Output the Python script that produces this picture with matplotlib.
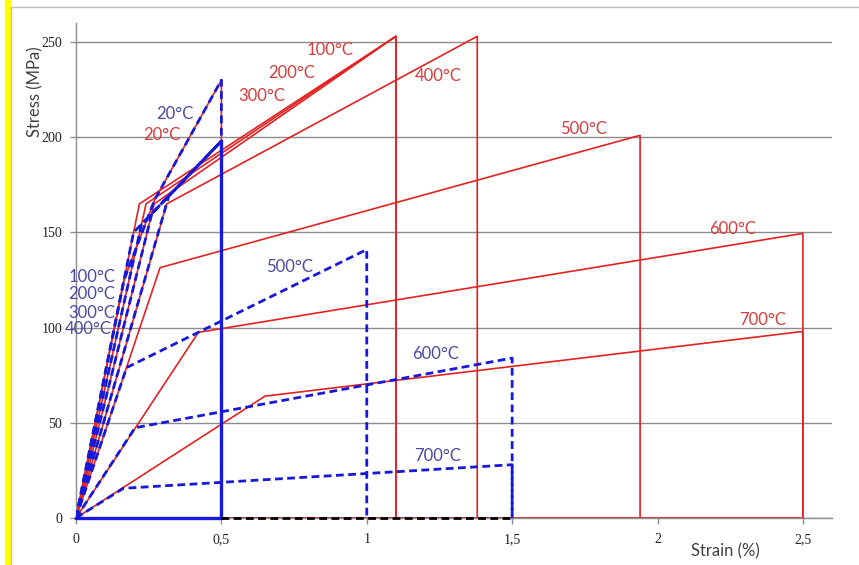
import matplotlib
matplotlib.use('Agg')
import matplotlib.pyplot as plt
from matplotlib.patches import Rectangle

RED = '#e32222'
BLUE = '#1818d8'
RED_TXT = '#d63c3c'
BLUE_TXT = '#4a4aa0'
DASH = (0, (2.8, 1.6))

# 20°C curve (same for both series)
strain_20 = [0, 0.165, 0.27, 0.5]
stress_20 = [0, 125, 167, 230]

# red series: elastic -> yield -> peak -> drop to zero
red_temps = ['100°C', '200°C', '300°C', '400°C', '500°C', '600°C', '700°C']
red_yield_strain = [0.218, 0.241, 0.269, 0.312, 0.289, 0.421, 0.65]
red_yield_stress = [165, 165, 165, 165, 131.5, 97.5, 64]
red_peak_strain = [1.1, 1.1, 1.1, 1.38, 1.94, 2.5, 2.5]
red_peak_stress = [253, 253, 253, 253, 201, 149.5, 98]

# blue series, 100-400°C end at 0.5 %
blue_low_temps = ['100°C', '200°C', '300°C', '400°C']
blue_low_yield_strain = [0.198, 0.225, 0.261, 0.319]
blue_low_yield_stress = [150, 154, 160, 169]
blue_low_peak = (0.5, 198)

# blue series, 500-700°C
blue_high_temps = ['500°C', '600°C', '700°C']
blue_high_yield_strain = [0.174, 0.203, 0.163]
blue_high_yield_stress = [79, 47.4, 15.6]
blue_high_peak_strain = [1.0, 1.5, 1.5]
blue_high_peak_stress = [141, 84, 28]

x_ticks = [0, 0.5, 1, 1.5, 2, 2.5]
x_tick_labels = ['0', '0,5', '1', '1,5', '2', '2,5']
y_ticks = [0, 50, 100, 150, 200, 250]

fig = plt.figure(figsize=(8.59, 5.65), dpi=100)

# frame decoration on the left / top
fig.patches.append(Rectangle((5 / 859, 0), 5 / 859, 1, transform=fig.transFigure,
                             color='#ffff00', zorder=0))
fig.add_artist(plt.Line2D([10.5 / 859, 10.5 / 859], [0, 1 - 7 / 565],
                          transform=fig.transFigure, color='#bdbdbd', lw=1))
fig.add_artist(plt.Line2D([10.5 / 859, 1], [1 - 7 / 565, 1 - 7 / 565],
                          transform=fig.transFigure, color='#bdbdbd', lw=1))

ax = fig.add_axes([76 / 859, 47 / 565, 756 / 859, 495 / 565])

# red curves
ax.plot([0, 2.5], [0, 0], color=RED, lw=1.3, zorder=2, clip_on=False)
ax.plot(strain_20 + [0.5], stress_20 + [0], color=RED, lw=1.2, zorder=2)
for i in range(len(red_temps)):
    ax.plot([0, red_yield_strain[i], red_peak_strain[i], red_peak_strain[i]],
            [0, red_yield_stress[i], red_peak_stress[i], 0],
            color=RED, lw=1.2, zorder=2)

# blue curves
ax.plot(strain_20 + [0.5], stress_20 + [0], color=BLUE, lw=2, ls=DASH, zorder=3)
px, py = blue_low_peak
for i in range(len(blue_low_temps)):
    ax.plot([0, blue_low_yield_strain[i], px], [0, blue_low_yield_stress[i], py],
            color=BLUE, lw=2, ls=DASH, zorder=3)
ax.plot([px, px, 0], [py, 0, 0], color=BLUE, lw=2.4, zorder=4, clip_on=False)
for i in range(len(blue_high_temps)):
    ax.plot([0, blue_high_yield_strain[i], blue_high_peak_strain[i], blue_high_peak_strain[i]],
            [0, blue_high_yield_stress[i], blue_high_peak_stress[i], 0],
            color=BLUE, lw=2, ls=DASH, zorder=3)
ax.plot([0.5, 1.5], [0, 0], color='black', lw=2, ls=DASH, zorder=4, clip_on=False)

# curve labels
labels = [
    ('100°C', 0.874, 245.8, RED_TXT), ('200°C', 0.743, 233.7, RED_TXT),
    ('300°C', 0.640, 221.6, RED_TXT), ('400°C', 1.245, 232.1, RED_TXT),
    ('500°C', 1.744, 204.2, RED_TXT), ('600°C', 2.257, 151.6, RED_TXT),
    ('700°C', 2.360, 104.2, RED_TXT), ('20°C', 0.296, 201.1, RED_TXT),
    ('20°C', 0.341, 212.1, BLUE_TXT), ('100°C', 0.055, 126.8, BLUE_TXT),
    ('200°C', 0.055, 117.4, BLUE_TXT), ('300°C', 0.055, 107.9, BLUE_TXT),
    ('400°C', 0.041, 99.5, BLUE_TXT), ('500°C', 0.736, 132.1, BLUE_TXT),
    ('600°C', 1.235, 86.3, BLUE_TXT), ('700°C', 1.242, 32.6, BLUE_TXT),
]
for txt, x, y, c in labels:
    ax.text(x, y, txt, color=c, fontsize=12, family='Lato',
            ha='center', va='center', zorder=5)

ax.set_xlim(0, 2.6)
ax.set_ylim(0, 260)
ax.set_xticks(x_ticks)
ax.set_xticklabels(x_tick_labels)
ax.set_yticks(y_ticks)
for lab in ax.get_xticklabels() + ax.get_yticklabels():
    lab.set_family('Liberation Serif')
    lab.set_fontsize(10)
    lab.set_color('#222222')
ax.tick_params(axis='both', direction='out', length=4, width=1, color='#8c8c8c')
ax.tick_params(axis='x', pad=7)
ax.tick_params(axis='y', pad=6)

ax.yaxis.grid(True, color='#8c8c8c', lw=1)
ax.set_axisbelow(True)
for side in ['top', 'right']:
    ax.spines[side].set_visible(False)
for side in ['left', 'bottom']:
    ax.spines[side].set_color('#8c8c8c')
    ax.spines[side].set_linewidth(1)

fig.text(725 / 859, 1 - 551 / 565, 'Strain (%)', family='Lato', fontsize=12,
         color='#404040', ha='center', va='center')
fig.text(35 / 859, 1 - 92 / 565, 'Stress (MPa)', family='Lato', fontsize=12,
         color='#404040', ha='center', va='center', rotation=90)

fig.savefig('out.png', dpi=100)
